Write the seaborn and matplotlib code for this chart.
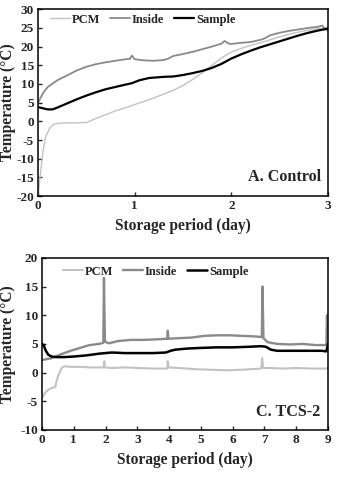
import numpy as np
import pandas as pd
import matplotlib
matplotlib.use("Agg")
import matplotlib.pyplot as plt
import seaborn as sns

# ---- Panel A: Control (0-3 days) ----
a_pcm_x = [0.0, 0.02, 0.05, 0.08, 0.12, 0.16, 0.22, 0.3, 0.4, 0.5, 0.6, 0.7, 0.8, 0.9, 1.0, 1.1,
           1.2, 1.3, 1.4, 1.5, 1.6, 1.7, 1.8, 1.9, 2.0, 2.1, 2.2, 2.3, 2.4, 2.5, 2.6, 2.7, 2.8, 2.9, 3.0]
a_pcm_y = [-20, -15, -8, -4, -1.8, -0.8, -0.5, -0.4, -0.4, -0.3, 0.8, 1.8, 2.8, 3.6, 4.5, 5.4,
           6.3, 7.3, 8.3, 9.6, 11.2, 13.0, 15.0, 17.0, 18.5, 19.5, 20.3, 21.0, 21.8, 22.6, 23.3, 23.9, 24.4, 24.8, 25.0]

a_in_x = [0.0, 0.05, 0.1, 0.2, 0.3, 0.4, 0.5, 0.6, 0.7, 0.8, 0.9, 0.95, 0.97, 1.0, 1.1, 1.2, 1.3,
          1.35, 1.4, 1.5, 1.6, 1.7, 1.8, 1.9, 1.93, 1.97, 2.0, 2.1, 2.2, 2.3, 2.33, 2.4, 2.5, 2.6,
          2.7, 2.8, 2.9, 2.94, 2.97, 3.0]
a_in_y = [5.0, 7.5, 9.2, 11.0, 12.3, 13.6, 14.6, 15.3, 15.8, 16.2, 16.6, 16.7, 17.6, 16.6, 16.3,
          16.2, 16.4, 16.8, 17.5, 18.0, 18.6, 19.3, 20.0, 20.8, 21.5, 20.8, 20.7, 21.0, 21.2, 21.8,
          22.0, 23.0, 23.7, 24.2, 24.6, 25.0, 25.3, 25.6, 24.8, 24.3]

a_smp_x = [0.0, 0.05, 0.1, 0.15, 0.2, 0.3, 0.4, 0.5, 0.6, 0.7, 0.8, 0.9, 0.97, 1.05, 1.15, 1.3,
           1.4, 1.5, 1.6, 1.7, 1.8, 1.9, 2.0, 2.1, 2.2, 2.3, 2.4, 2.5, 2.6, 2.7, 2.8, 2.9, 3.0]
a_smp_y = [3.8, 3.5, 3.2, 3.2, 3.7, 4.8, 5.9, 6.9, 7.8, 8.6, 9.2, 9.8, 10.2, 11.0, 11.6, 11.9,
           12.0, 12.4, 12.9, 13.5, 14.3, 15.4, 16.8, 17.9, 18.9, 19.8, 20.6, 21.4, 22.2, 23.0, 23.7, 24.3, 24.8]

# ---- Panel C: TCS-2 (0-9 days) ----
c_pcm_x = [0.0, 0.1, 0.2, 0.3, 0.42, 0.47, 0.55, 0.62, 0.7, 0.9, 1.2, 1.5, 1.8, 1.94, 1.96, 1.98,
           2.2, 2.6, 3.0, 3.5, 3.94, 3.96, 3.98, 4.3, 4.8, 5.3, 5.8, 6.3, 6.9, 6.93, 6.96, 7.2,
           7.6, 8.0, 8.5, 9.0]
c_pcm_y = [-4.5, -3.5, -3.0, -2.7, -2.5, -1.2, 0.0, 0.8, 1.1, 1.0, 1.0, 0.9, 0.9, 0.9, 2.0, 0.9,
           0.8, 0.9, 0.8, 0.7, 0.7, 2.0, 0.9, 0.8, 0.6, 0.5, 0.4, 0.5, 0.7, 2.5, 0.8, 0.8,
           0.7, 0.8, 0.7, 0.7]

c_in_x = [0.0, 0.3, 0.6, 0.9, 1.2, 1.5, 1.8, 1.93, 1.95, 1.98, 2.1, 2.4, 2.8, 3.2, 3.6, 3.94,
          3.96, 3.98, 4.3, 4.7, 5.1, 5.5, 5.9, 6.3, 6.7, 6.92, 6.94, 6.97, 7.1, 7.4, 7.8, 8.2, 8.6,
          8.95, 8.97, 9.0]
c_in_y = [2.2, 2.5, 3.2, 3.8, 4.3, 4.8, 5.0, 5.2, 16.5, 5.4, 5.1, 5.5, 5.7, 5.7, 5.8, 5.9,
          7.3, 5.9, 6.0, 6.1, 6.4, 6.5, 6.5, 6.4, 6.3, 6.2, 15.0, 6.0, 5.3, 5.0, 4.9, 5.0, 4.8,
          4.8, 10.0, 5.0]

c_smp_x = [0.0, 0.05, 0.12, 0.2, 0.3, 0.45, 0.7, 1.0, 1.4, 1.8, 2.2, 2.6, 3.0, 3.5, 3.9, 4.05,
           4.2, 4.6, 5.0, 5.5, 6.0, 6.5, 6.9, 7.05, 7.2, 7.4, 7.8, 8.3, 8.8, 8.95, 9.0]
c_smp_y = [5.0, 4.8, 3.8, 3.1, 2.8, 2.7, 2.7, 2.8, 3.0, 3.3, 3.5, 3.4, 3.4, 3.4, 3.5, 3.8,
           4.0, 4.2, 4.3, 4.4, 4.4, 4.5, 4.6, 4.5, 4.0, 3.8, 3.8, 3.8, 3.8, 3.7, 5.0]

series_names = ["PCM", "Inside", "Sample"]
colors = {"PCM": "#c2c2c2", "Inside": "#8a8a8a", "Sample": "#000000"}

sns.set_theme(style="ticks")
plt.rcParams["font.family"] = ["Liberation Serif", "DejaVu Serif"]
plt.rcParams["font.weight"] = "bold"
plt.rcParams["axes.labelweight"] = "bold"
plt.rcParams["axes.unicode_minus"] = False

fig = plt.figure(figsize=(3.53, 4.82), dpi=100)
ax1 = fig.add_axes([0.108, 0.593, 0.821, 0.388])
ax2 = fig.add_axes([0.119, 0.108, 0.810, 0.357])


def draw_panel(ax, data, widths, xlim, xticks, ylim, yticks, tag, leg_anchor, ylab_x):
    for name, (xs, ys) in zip(series_names, data):
        sns.lineplot(x=xs, y=ys, ax=ax, color=colors[name], linewidth=widths[name],
                     label=name, estimator=None, sort=False)
    ax.set_xlim(*xlim)
    ax.set_ylim(*ylim)
    ax.set_xticks(xticks)
    ax.set_yticks(yticks)
    ax.tick_params(direction="in", length=3, width=1, labelsize=9.5, pad=3)
    for lab in ax.get_xticklabels() + ax.get_yticklabels():
        lab.set_fontweight("bold")
    for sp in ax.spines.values():
        sp.set_visible(True)
        sp.set_color("black")
        sp.set_linewidth(1.1)
    ax.set_xlabel("Storage period (day)", fontsize=11.2, fontweight="bold", labelpad=4)
    ax.set_ylabel("Temperature (\u00b0C)", fontsize=11.2, fontweight="bold")
    ax.yaxis.set_label_coords(ylab_x, 0.5)
    ax.legend(loc="upper left", bbox_to_anchor=leg_anchor, ncol=3, frameon=False,
              handlelength=1.6, handletextpad=0.15, columnspacing=0.8,
              borderaxespad=0, borderpad=0,
              prop={"weight": "bold", "size": 9})
    ax.text(0.975, 0.06, tag, transform=ax.transAxes, ha="right", va="bottom",
            fontsize=11.6, fontweight="bold")


draw_panel(ax1, [(a_pcm_x, a_pcm_y), (a_in_x, a_in_y), (a_smp_x, a_smp_y)],
           {"PCM": 1.0, "Inside": 1.3, "Sample": 1.6},
           (0, 3), [0, 1, 2, 3], (-20, 30), list(range(-20, 31, 5)), "A. Control",
           (0.04, 0.975), -0.078)
draw_panel(ax2, [(c_pcm_x, c_pcm_y), (c_in_x, c_in_y), (c_smp_x, c_smp_y)],
           {"PCM": 1.5, "Inside": 1.7, "Sample": 1.8},
           (0, 9), list(range(0, 10)), (-10, 20), list(range(-10, 21, 5)), "C. TCS-2",
           (0.073, 0.955), -0.092)

fig.savefig("out.png", dpi=100)
